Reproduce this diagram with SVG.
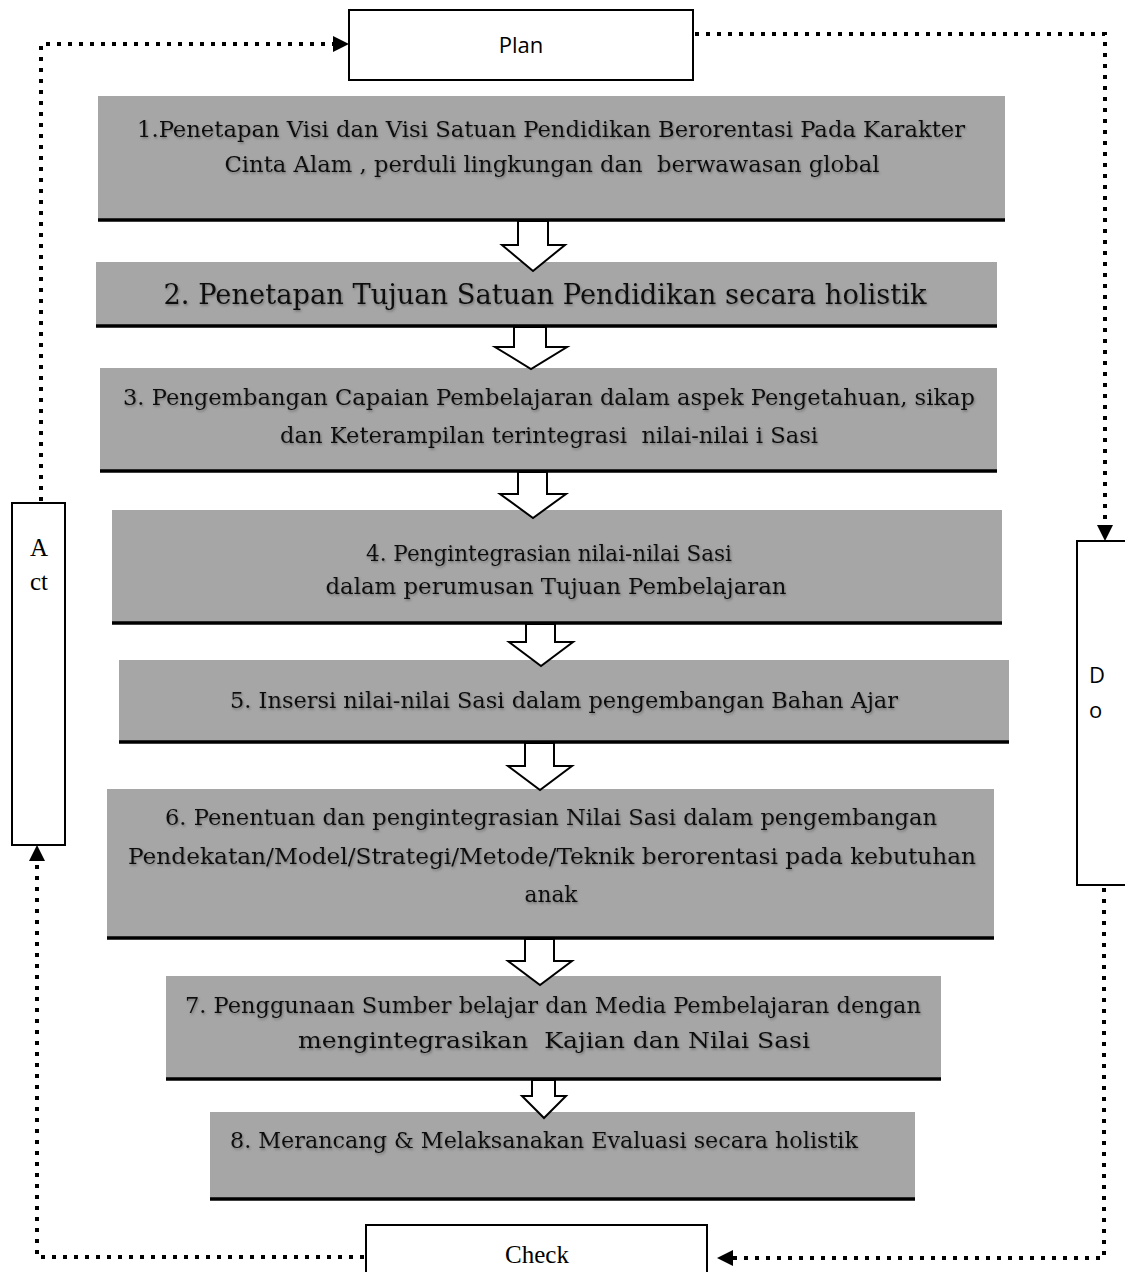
<svg xmlns="http://www.w3.org/2000/svg" width="1125" height="1272" viewBox="0 0 1125 1272">
<style>
.box{fill:#a6a6a6}
.base{stroke:#000;stroke-width:3.5}
.t{font-family:"DejaVu Serif","Liberation Serif",serif;font-size:22.5px;fill:#111;text-anchor:middle}
.big{font-size:27px}
.wb{fill:#fff;stroke:#000;stroke-width:2}
.blk{fill:#fff;stroke:#000;stroke-width:2;stroke-linejoin:miter}
.dot{fill:none;stroke:#000;stroke-width:4;stroke-dasharray:4 7}
.sans{font-family:"Open Sans","Noto Sans",sans-serif;font-size:22px;fill:#000}
.ser{font-family:"Liberation Serif",serif;font-size:25px;fill:#000}
</style>
<defs>
<marker id="ah" viewBox="0 0 16 16" refX="0" refY="8" markerWidth="16" markerHeight="16" markerUnits="userSpaceOnUse" orient="auto">
<path d="M0,0 L16,8 L0,16 z" fill="#000"/>
</marker>
<filter id="sh" x="-5%" y="-20%" width="110%" height="140%">
<feDropShadow dx="1" dy="1.5" stdDeviation="1" flood-color="#444" flood-opacity="0.55"/>
</filter>
</defs>
<rect width="1125" height="1272" fill="#fff"/>

<g id="plan">
<rect class="wb" x="349" y="10" width="344" height="70"/>
<text class="sans" x="521" y="53" text-anchor="middle">Plan</text>
</g>
<g id="act">
<rect class="wb" x="12" y="503" width="53" height="342"/>
<text class="ser" x="39" y="556" text-anchor="middle">A</text>
<text class="ser" x="39" y="590" text-anchor="middle">ct</text>
</g>
<g id="do">
<rect class="wb" x="1077" y="541" width="60" height="344"/>
<text class="sans" x="1089" y="683">D</text>
<text class="sans" x="1089" y="718">o</text>
</g>
<g id="check">
<rect class="wb" x="366" y="1225" width="341" height="80"/>
<text class="ser" x="537" y="1263" text-anchor="middle">Check</text>
</g>

<g id="step1">
<rect class="box" x="98" y="96" width="907" height="124"/>
<line class="base" x1="98" y1="220" x2="1005" y2="220"/>
<g filter="url(#sh)">
<text class="t" x="551" y="137" textLength="828" lengthAdjust="spacingAndGlyphs">1.Penetapan Visi dan Visi Satuan Pendidikan Berorentasi Pada Karakter</text>
<text class="t" x="552" y="172" textLength="655" lengthAdjust="spacingAndGlyphs" xml:space="preserve">Cinta Alam , perduli lingkungan dan  berwawasan global</text>
</g>
</g>
<g id="step2">
<rect class="box" x="96" y="262" width="901" height="64"/>
<line class="base" x1="96" y1="326" x2="997" y2="326"/>
<text class="t big" x="545" y="304" textLength="763" lengthAdjust="spacingAndGlyphs" filter="url(#sh)">2. Penetapan Tujuan Satuan Pendidikan secara holistik</text>
</g>
<g id="step3">
<rect class="box" x="100" y="368" width="897" height="104"/>
<line class="base" x1="100" y1="471" x2="997" y2="471"/>
<g filter="url(#sh)">
<text class="t" x="549" y="405" textLength="852" lengthAdjust="spacingAndGlyphs">3. Pengembangan Capaian Pembelajaran dalam aspek Pengetahuan, sikap</text>
<text class="t" x="549" y="443" textLength="538" lengthAdjust="spacingAndGlyphs" xml:space="preserve">dan Keterampilan terintegrasi  nilai-nilai i Sasi</text>
</g>
</g>
<g id="step4">
<rect class="box" x="112" y="510" width="890" height="114"/>
<line class="base" x1="112" y1="623" x2="1002" y2="623"/>
<g filter="url(#sh)">
<text class="t" x="549" y="561" textLength="366" lengthAdjust="spacingAndGlyphs">4. Pengintegrasian nilai-nilai Sasi</text>
<text class="t" x="556" y="594" textLength="461" lengthAdjust="spacingAndGlyphs">dalam perumusan Tujuan Pembelajaran</text>
</g>
</g>
<g id="step5">
<rect class="box" x="119" y="660" width="890" height="83"/>
<line class="base" x1="119" y1="742" x2="1009" y2="742"/>
<text class="t" x="564" y="708" textLength="668" lengthAdjust="spacingAndGlyphs" filter="url(#sh)">5. Insersi nilai-nilai Sasi dalam pengembangan Bahan Ajar</text>
</g>
<g id="step6">
<rect class="box" x="107" y="789" width="887" height="150"/>
<line class="base" x1="107" y1="938" x2="994" y2="938"/>
<g filter="url(#sh)">
<text class="t" x="551" y="825" textLength="772" lengthAdjust="spacingAndGlyphs">6. Penentuan dan pengintegrasian Nilai Sasi dalam pengembangan</text>
<text class="t" x="552" y="864" textLength="848" lengthAdjust="spacingAndGlyphs">Pendekatan/Model/Strategi/Metode/Teknik berorentasi pada kebutuhan</text>
<text class="t" x="551" y="902" textLength="53" lengthAdjust="spacingAndGlyphs">anak</text>
</g>
</g>
<g id="step7">
<rect class="box" x="166" y="976" width="775" height="104"/>
<line class="base" x1="166" y1="1079" x2="941" y2="1079"/>
<g filter="url(#sh)">
<text class="t" x="553" y="1013" textLength="736" lengthAdjust="spacingAndGlyphs">7. Penggunaan Sumber belajar dan Media Pembelajaran dengan</text>
<text class="t" x="554" y="1048" textLength="512" lengthAdjust="spacingAndGlyphs" xml:space="preserve">mengintegrasikan  Kajian dan Nilai Sasi</text>
</g>
</g>
<g id="step8">
<rect class="box" x="210" y="1112" width="705" height="88"/>
<line class="base" x1="210" y1="1199" x2="915" y2="1199"/>
<text class="t" x="544" y="1148" textLength="628" lengthAdjust="spacingAndGlyphs" filter="url(#sh)">8. Merancang &amp; Melaksanakan Evaluasi secara holistik</text>
</g>

<g id="connectors">
<polygon class="blk" points="518,221 548,221 548,245 565,245 533,271 502,245 518,245"/>
<polygon class="blk" points="514,327 546,327 546,347 567,347 531,369 495,347 514,347"/>
<polygon class="blk" points="518,472 547,472 547,494 566,494 533,518 500,494 518,494"/>
<polygon class="blk" points="526,624 555,624 555,642 573,642 541,666 509,642 526,642"/>
<polygon class="blk" points="525,743 554,743 554,766 572,766 540,790 508,766 525,766"/>
<polygon class="blk" points="525,939 554,939 554,961 572,961 540,985 508,961 525,961"/>
<polygon class="blk" points="532,1080 555,1080 555,1096 566,1096 544,1118 522,1096 532,1096"/>
<path class="dot" d="M41,501 V44 H333" marker-end="url(#ah)"/>
<path class="dot" d="M695,34 H1105 V525" marker-end="url(#ah)"/>
<path class="dot" d="M1104,888 V1258 H733" marker-end="url(#ah)"/>
<path class="dot" d="M364,1257 H37 V861" marker-end="url(#ah)"/>
</g>
</svg>
